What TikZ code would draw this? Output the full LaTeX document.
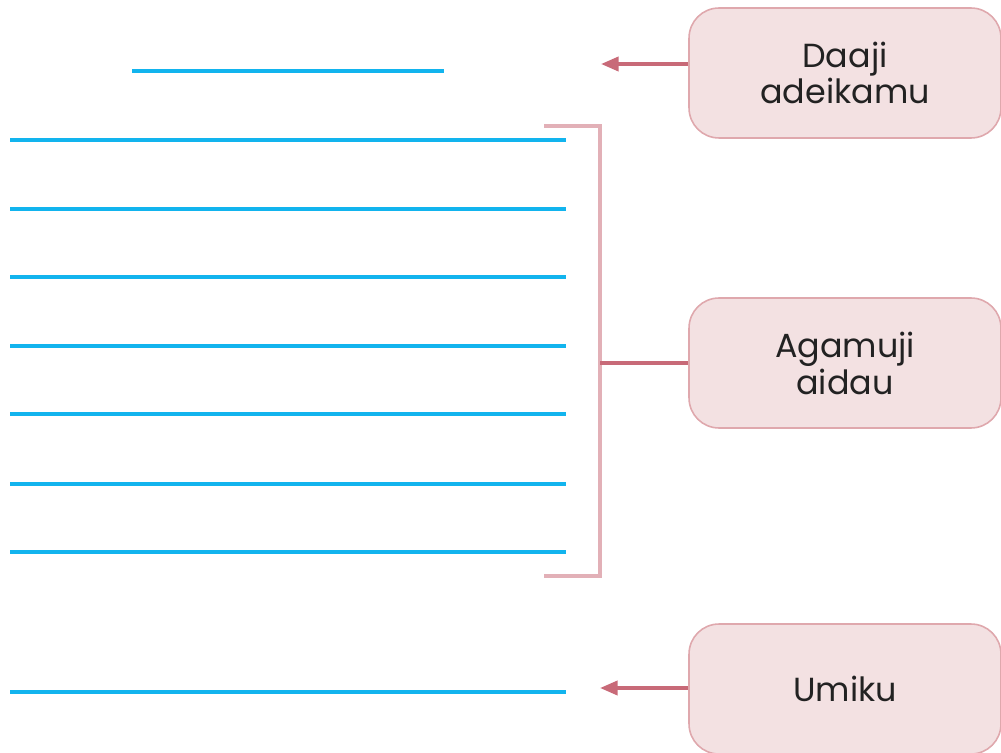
\documentclass[tikz,border=0pt]{standalone}
\usepackage{fontspec}
\setmainfont{Poppins}
\usetikzlibrary{arrows.meta}
\definecolor{boxfill}{HTML}{F3E1E2}
\definecolor{boxline}{HTML}{DFA8AD}
\definecolor{bracketpink}{HTML}{E2B0B7}
\definecolor{arrowred}{HTML}{C86A78}
\definecolor{lineblue}{HTML}{12B4EE}
\definecolor{textgray}{HTML}{222222}
\begin{document}
\begin{tikzpicture}[x=0.02cm,y=-0.02cm,
    tag/.style={draw=boxline,fill=boxfill,line width=0.9pt,rounded corners=0.6cm,
        minimum width=6.24cm,minimum height=2.6cm,align=center,text=textgray,
        font=\fontsize{19}{21}\selectfont},
    blank/.style={lineblue,line width=2.1pt},
    link/.style={arrowred,line width=2pt}]
                \useasboundingbox (0,0) rectangle (1001,753);
                % boxes on the right
                \node[tag] (title) at (845,73) {Daaji\\adeikamu};
                \node[tag] (body) at (845,363) {Agamuji\\aidau};
                \node[tag] (sign) at (845,689) {Umiku};
                % lines to write on
                \draw[blank] (132,71) -- (444,71);
                \foreach \y in {140,209,277,346,414,484,552,692}
                    \draw[blank] (10,\y) -- (566,\y);
                % bracket round the body lines
                \draw[bracketpink,line width=2.1pt] (544,126) -- (600,126) -- (600,576) -- (544,576);
                \coordinate (titleend) at (601,64);
                \coordinate (bodyend) at (600,363);
                \coordinate (signend) at (600,688);
                \draw[link,-{Triangle[length=10pt,width=8pt]}] (title.west |- titleend) -- (titleend);
                \draw[link] (body.west) -- (bodyend);
                \draw[link,-{Triangle[length=10pt,width=8pt]}] (sign.west |- signend) -- (signend);
            \end{tikzpicture}
\end{document}
